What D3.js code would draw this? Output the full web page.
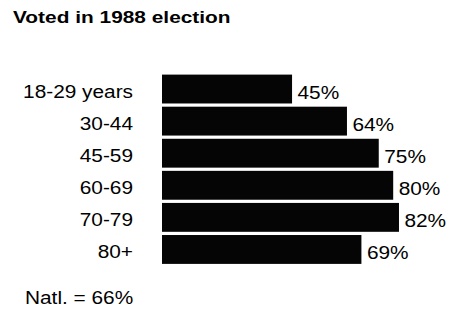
<!DOCTYPE html>
<html>
<head>
<meta charset="utf-8">
<script src="https://cdn.jsdelivr.net/npm/d3@7"></script>
<style>
  html, body { margin: 0; padding: 0; background: #fff; }
  svg { display: block; }
  text { font-family: "Liberation Sans", Arial, Helvetica, sans-serif; fill: #000; }
</style>
</head>
<body>
<script>
const title = "Voted in 1988 election";
const categories = ["18-29 years", "30-44", "45-59", "60-69", "70-79", "80+"];
const values = [45, 64, 75, 80, 82, 69];
const valueLabels = ["45%", "64%", "75%", "80%", "82%", "69%"];
const footnote = "Natl. = 66%";

const W = 465, H = 317;
const SX_T = 1.28; // horizontal stretch of the title typography
const SX = 1.19;   // horizontal stretch of the label typography
const FS = 17.5;

const svg = d3.select("body").append("svg").attr("width", W).attr("height", H);

const x = d3.scaleLinear().domain([0, 100]).range([162, 451]);
const y = d3.scaleBand().domain(categories).range([73, 265.5]).paddingInner(0.1).paddingOuter(0.05);

// title
svg.append("text")
  .attr("transform", `translate(13,22.5) scale(${SX_T},1)`)
  .attr("font-size", 16.3)
  .attr("font-weight", "bold")
  .text(title);

// bars
svg.append("g").selectAll("rect")
  .data(values)
  .join("rect")
  .attr("x", x(0))
  .attr("y", (d, i) => y(categories[i]))
  .attr("width", d => x(d) - x(0))
  .attr("height", y.bandwidth())
  .attr("fill", "#050505");

// category labels
svg.append("g").selectAll("text")
  .data(categories)
  .join("text")
  .attr("text-anchor", "end")
  .attr("font-size", FS)
  .attr("transform", d => `translate(133,${y(d) + y.bandwidth() / 2 + 8.5}) scale(${SX},1)`)
  .text(d => d);

// value labels
svg.append("g").selectAll("text")
  .data(values)
  .join("text")
  .attr("font-size", FS)
  .attr("transform", (d, i) => `translate(${x(d) + 5.5},${y(categories[i]) + y.bandwidth() / 2 + 10}) scale(${SX},1)`)
  .text((d, i) => valueLabels[i]);

// footnote
svg.append("text")
  .attr("transform", `translate(25,304) scale(${SX},1)`)
  .attr("font-size", FS)
  .text(footnote);
</script>
</body>
</html>
